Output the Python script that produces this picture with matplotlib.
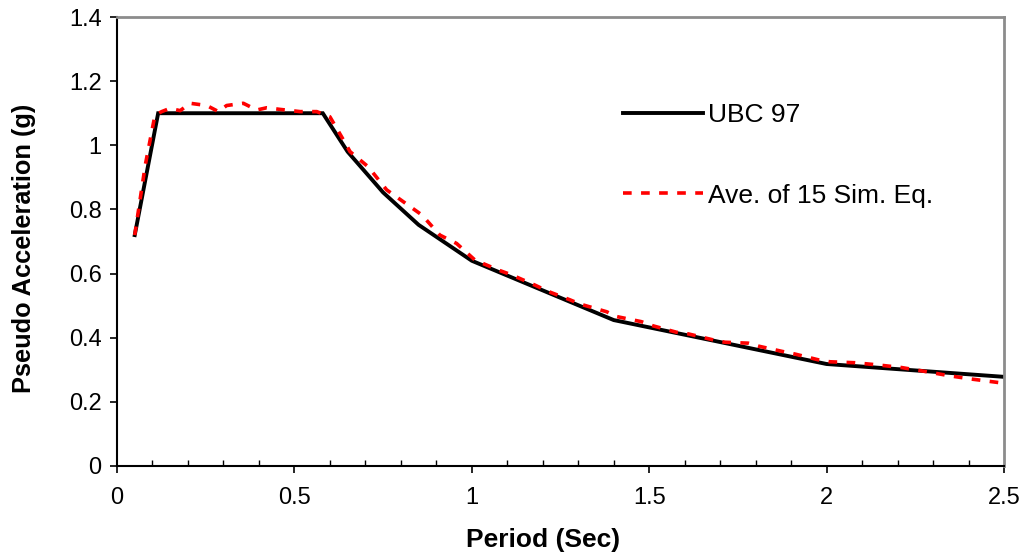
import matplotlib
matplotlib.use("Agg")
import matplotlib.pyplot as plt
from matplotlib.ticker import MultipleLocator

plt.rcParams['font.family'] = ['Liberation Sans', 'DejaVu Sans']

# UBC 97 design spectrum
T_ubc = [0.05, 0.116, 0.58, 0.65, 0.75, 0.85, 1.0, 1.4, 2.0, 2.5]
Sa_ubc = [0.72, 1.10, 1.10, 0.98, 0.853, 0.752, 0.64, 0.455, 0.318, 0.278]

# Average of 15 simulated earthquakes
T_sim = [0.05, 0.065, 0.08, 0.107, 0.126, 0.149, 0.178, 0.206, 0.253, 0.286,
         0.309, 0.356, 0.394, 0.422, 0.459, 0.516, 0.563, 0.60, 0.638, 0.657,
         0.708, 0.760, 0.807, 0.859, 0.910, 0.957, 1.009, 1.075, 1.112, 1.178,
         1.216, 1.277, 1.305, 1.380, 1.408, 1.478, 1.511, 1.577, 1.610, 1.681,
         1.713, 1.779, 1.807, 1.876, 1.911, 1.977, 2.009, 2.080, 2.146, 2.211,
         2.282, 2.348, 2.409, 2.5]
Sa_sim = [0.72, 0.83, 0.94, 1.094, 1.105, 1.115, 1.108, 1.131, 1.124, 1.105,
          1.124, 1.131, 1.110, 1.117, 1.112, 1.105, 1.105, 1.089, 1.017, 0.980,
          0.933, 0.861, 0.824, 0.783, 0.720, 0.694, 0.642, 0.611, 0.596, 0.564,
          0.544, 0.518, 0.505, 0.481, 0.466, 0.450, 0.437, 0.417, 0.412, 0.393,
          0.386, 0.383, 0.374, 0.357, 0.349, 0.331, 0.325, 0.322, 0.315, 0.307,
          0.294, 0.281, 0.271, 0.258]

x_ticks = [0, 0.5, 1, 1.5, 2, 2.5]
x_ticklabels = ['0', '0.5', '1', '1.5', '2', '2.5']
y_ticks = [0, 0.2, 0.4, 0.6, 0.8, 1.0, 1.2, 1.4]
y_ticklabels = ['0', '0.2', '0.4', '0.6', '0.8', '1', '1.2', '1.4']

fig = plt.figure(figsize=(10.27, 5.55), dpi=100)
ax = fig.add_axes([117/1027, 1 - 466/555, (1004 - 117)/1027, (466 - 17)/555])

ax.plot(T_ubc, Sa_ubc, color='black', lw=2.8, label='UBC 97', zorder=2,
        solid_joinstyle='miter')
ax.plot(T_sim, Sa_sim, color='#ff0000', lw=2.6, linestyle=(0, (2.4, 2.6)),
        label='Ave. of 15 Sim. Eq.', zorder=3)

ax.set_xlim(0, 2.5)
ax.set_ylim(0, 1.4)
ax.set_xticks(x_ticks)
ax.set_xticklabels(x_ticklabels)
ax.set_yticks(y_ticks)
ax.set_yticklabels(y_ticklabels)
ax.xaxis.set_minor_locator(MultipleLocator(0.1))

ax.tick_params(axis='both', which='major', direction='out', length=5, width=1.2,
               labelsize=17, colors='black')
ax.tick_params(axis='x', which='major', pad=10)
ax.tick_params(axis='y', which='major', pad=6)
ax.tick_params(axis='x', which='minor', direction='in', length=4, width=1.0)
ax.tick_params(axis='y', which='minor', left=False)

for s in ['left', 'bottom']:
    ax.spines[s].set_color('black')
    ax.spines[s].set_linewidth(1.5)
for s in ['top', 'right']:
    ax.spines[s].set_color('#8c8c8c')
    ax.spines[s].set_linewidth(2)

ax.set_xlabel('Period (Sec)', fontsize=19, fontweight='bold')
ax.set_ylabel('Pseudo Acceleration (g)', fontsize=18.3, fontweight='bold')
ax.xaxis.set_label_coords(0.480, -0.138)
ax.yaxis.set_label_coords(-0.0913, 0.4855)

leg = ax.legend(loc='upper left', bbox_to_anchor=(0.559, 0.832), frameon=False,
                fontsize=19, handlelength=3.0, handletextpad=0.2,
                labelspacing=2.15, borderaxespad=0)

fig.savefig('out.png', dpi=100, facecolor='white')
